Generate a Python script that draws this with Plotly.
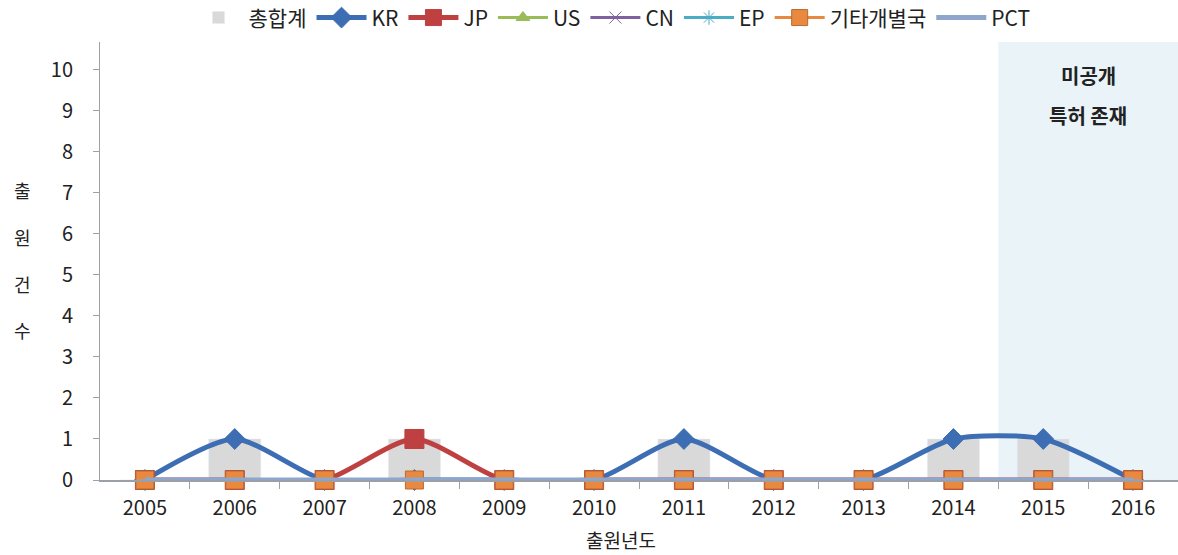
import plotly.graph_objects as go

years = [2005, 2006, 2007, 2008, 2009, 2010, 2011, 2012, 2013, 2014, 2015, 2016]
total = [0, 1, 0, 1, 0, 0, 1, 0, 0, 1, 1, 0]
kr = [0, 1, 0, 0, 0, 0, 1, 0, 0, 1, 1, 0]
jp = [0, 0, 0, 1, 0, 0, 0, 0, 0, 0, 0, 0]
us = [0, 0, 0, 0, 0, 0, 0, 0, 0, 0, 0, 0]
cn = [0, 0, 0, 0, 0, 0, 0, 0, 0, 0, 0, 0]
ep = [0, 0, 0, 0, 0, 0, 0, 0, 0, 0, 0, 0]
other = [0, 0, 0, 0, 0, 0, 0, 0, 0, 0, 0, 0]
pct = [0, 0, 0, 0, 0, 0, 0, 0, 0, 0, 0, 0]
y_ticks = list(range(0, 11))

FONT = "Noto Sans CJK KR"

fig = go.Figure()

fig.add_trace(go.Bar(x=years, y=total, name="총합계", marker=dict(color="#D9D9D9"),
                     width=0.58))

def line_trace(y, name, color, symbol, size, width=3, mline=None, smoothing=0.7):
    return go.Scatter(
        x=years, y=y, name=name, mode="lines+markers",
        line=dict(color=color, width=width, shape="spline", smoothing=smoothing),
        marker=dict(symbol=symbol, size=size, color=color,
                    line=dict(width=1, color=mline or color)),
        cliponaxis=False,
    )

fig.add_trace(line_trace(kr, "KR", "#3D6DB3", "diamond", 16, width=5))
fig.add_trace(line_trace(jp, "JP", "#BE4040", "square", 19, width=5))
fig.add_trace(line_trace(us, "US", "#9BBB59", "triangle-up", 12))
fig.add_trace(line_trace(cn, "CN", "#7E62A0", "x-thin", 12))
fig.add_trace(line_trace(ep, "EP", "#4BACC6", "asterisk", 12))
fig.add_trace(line_trace(other, "기타개별국", "#E8893F", "square", 18, mline="#B86A30"))
fig.add_trace(line_trace(pct, "PCT", "#8FA6CC", "line-ew", 12, width=5))

fig.add_vrect(x0=2014.5, x1=2016.6, fillcolor="#EAF4F8", line_width=0, layer="below")

fig.add_annotation(x=2015.5, y=9.87, text="<b>미공개</b>", showarrow=False,
                   font=dict(family=FONT, size=20, color="#222"))
fig.add_annotation(x=2015.5, y=8.9, text="<b>특허 존재</b>", showarrow=False,
                   font=dict(family=FONT, size=20, color="#222"))

fig.add_annotation(xref="paper", yref="paper", x=-0.082, y=0.502,
                   text="출<br><br>원<br><br>건<br><br>수", showarrow=False,
                   font=dict(family=FONT, size=18, color="#222"), align="center")

fig.add_annotation(xref="paper", yref="paper", x=0.483, y=-0.136,
                   text="출원년도", showarrow=False, yanchor="middle",
                   font=dict(family=FONT, size=19, color="#222"))

fig.update_layout(
    width=1178, height=555,
    margin=dict(l=100, r=0, t=42, b=75, autoexpand=False),
    plot_bgcolor="white", paper_bgcolor="white",
    font=dict(family=FONT, size=20, color="#222"),
    showlegend=True,
    legend=dict(orientation="h", x=0.475, xanchor="center", y=1.055, yanchor="middle",
                font=dict(size=21), itemwidth=50, tracegroupgap=0,
                bgcolor="rgba(0,0,0,0)"),
    xaxis=dict(
        range=[2004.5, 2016.5], tickvals=years, ticktext=[str(v) for v in years],
        showgrid=False, zeroline=False, showline=True, linecolor="#9A9FAA", linewidth=2,
        ticks="", tickfont=dict(size=20), automargin=False, ticklabelstandoff=9,
        minor=dict(tickvals=[v + 0.5 for v in years[:-1]], ticks="outside",
                   ticklen=7, tickcolor="#9A9FAA", tickwidth=1),
    ),
    yaxis=dict(
        range=[0, 10.68], tickvals=y_ticks, showgrid=False, zeroline=False,
        showline=True, linecolor="#A0A0A0", linewidth=1, automargin=False,
        ticks="outside", ticklen=6, tickcolor="#A0A0A0",
        tickfont=dict(size=20), ticklabelstandoff=16,
    ),
)

fig.write_html("out.html", config={"displayModeBar": False},
               post_script="document.body.style.margin='0px';")
